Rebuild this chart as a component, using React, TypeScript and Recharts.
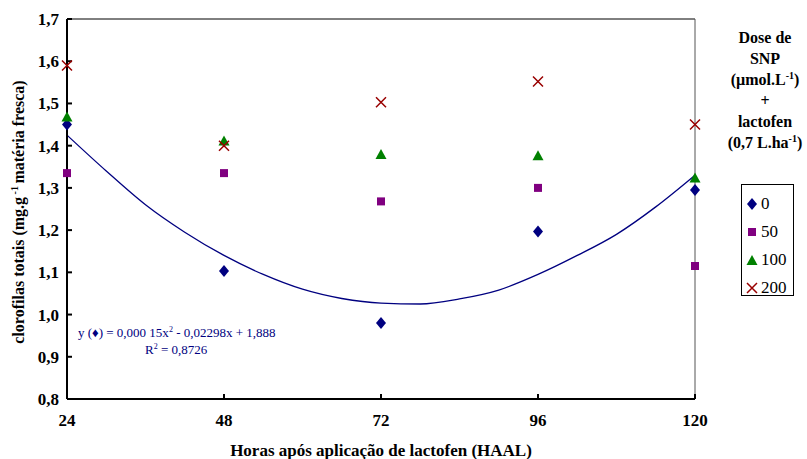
import {
  ComposedChart,
  Line,
  ReferenceLine,
  Scatter,
  XAxis,
  YAxis,
  Label,
} from 'recharts'

const hours = [24, 48, 72, 96, 120]
const dose0 = [1.45, 1.103, 0.98, 1.197, 1.295]
const dose50 = [1.335, 1.335, 1.268, 1.3, 1.115]
const dose100 = [1.467, 1.41, 1.378, 1.375, 1.322]
const dose200 = [1.59, 1.4, 1.503, 1.552, 1.45]

// trend line for dose 0
const trendHours = [24, 30, 36, 42, 48, 54, 60, 66, 72, 78, 84, 90, 96, 102, 108, 114, 120]
const trendValues = [1.425, 1.34, 1.26, 1.195, 1.14, 1.095, 1.06, 1.038, 1.027, 1.025, 1.037, 1.058, 1.095, 1.14, 1.19, 1.255, 1.33]

const yTicks = [0.8, 0.9, 1.0, 1.1, 1.2, 1.3, 1.4, 1.5, 1.6, 1.7]

const toPoints = (vals: number[]) => hours.map((h, i) => ({ x: h, y: vals[i] }))
const trend = trendHours.map((h, i) => ({ x: h, y: trendValues[i] }))

const NAVY = '#000080'
const PURPLE = '#800080'
const GREEN = '#008000'
const RED = '#990000'
const FONT = 'Times New Roman, Times, Liberation Serif, DejaVu Serif, serif'

const Diamond = ({ cx, cy }: any) => (
  <path d={`M${cx},${cy - 6}L${cx + 5},${cy}L${cx},${cy + 6}L${cx - 5},${cy}Z`} fill={NAVY} />
)
const Square = ({ cx, cy }: any) => <rect x={cx - 4} y={cy - 4} width={8} height={8} fill={PURPLE} />
const Triangle = ({ cx, cy }: any) => (
  <path d={`M${cx},${cy - 6}L${cx + 5.5},${cy + 4}L${cx - 5.5},${cy + 4}Z`} fill={GREEN} />
)
const Cross = ({ cx, cy }: any) => (
  <path
    d={`M${cx - 5},${cy - 5}L${cx + 5},${cy + 5}M${cx + 5},${cy - 5}L${cx - 5},${cy + 5}`}
    stroke={RED}
    strokeWidth={1.5}
  />
)

const legendItems = [
  { name: '0', icon: <svg width={12} height={14}><Diamond cx={6} cy={7} /></svg> },
  { name: '50', icon: <svg width={12} height={14}><Square cx={6} cy={7} /></svg> },
  { name: '100', icon: <svg width={12} height={14}><Triangle cx={6} cy={8} /></svg> },
  { name: '200', icon: <svg width={12} height={14}><Cross cx={6} cy={7} /></svg> },
]

const tickStyle = { fontSize: 17, fontWeight: 'bold', fill: '#000', fontFamily: FONT }

function YLabel() {
  return (
    <text
      transform="translate(24,212) rotate(-90)"
      textAnchor="middle"
      fontFamily={FONT}
      fontWeight="bold"
      fontSize={16}
      fill="#000"
    >
      clorofilas totais (mg.g
      <tspan dy={-6} fontSize={10}> -1 </tspan>
      <tspan dy={6}> matéria fresca)</tspan>
    </text>
  )
}

export default function App() {
  return (
    <div style={{ position: 'absolute', left: 0, top: 0, width: 807, height: 459, background: '#fff', fontFamily: FONT }}>
      <ComposedChart width={807} height={459} margin={{ top: 19, right: 112, bottom: 0, left: 0 }}>
        <XAxis
          dataKey="x"
          type="number"
          domain={[24, 120]}
          ticks={hours}
          allowDuplicatedCategory={false}
          stroke="#000"
          strokeWidth={2}
          tickSize={-5}
          tickMargin={20}
          tick={tickStyle}
          height={60}
        >
          <Label
            value="Horas após aplicação de lactofen (HAAL)"
            position="insideBottom"
            offset={3}
            style={{ fontSize: 17, fontWeight: 'bold', fill: '#000', fontFamily: FONT }}
          />
        </XAxis>
        <YAxis
          dataKey="y"
          type="number"
          domain={[0.8, 1.7]}
          ticks={yTicks}
          tickFormatter={(v: number) => v.toFixed(1).replace('.', ',')}
          stroke="#000"
          strokeWidth={2}
          tickSize={-5}
          tickMargin={13}
          tick={tickStyle}
          width={67}
        >
          <Label content={<YLabel />} />
        </YAxis>
        <ReferenceLine y={1.7} stroke="#000" strokeWidth={1} />
        <ReferenceLine x={120} stroke="#555" strokeWidth={1} />
        <Line
          data={trend}
          dataKey="y"
          type="monotone"
          stroke={NAVY}
          strokeWidth={1.3}
          dot={false}
          isAnimationActive={false}
        />
        <Scatter data={toPoints(dose0)} shape={<Diamond />} isAnimationActive={false} />
        <Scatter data={toPoints(dose50)} shape={<Square />} isAnimationActive={false} />
        <Scatter data={toPoints(dose100)} shape={<Triangle />} isAnimationActive={false} />
        <Scatter data={toPoints(dose200)} shape={<Cross />} isAnimationActive={false} />
      </ComposedChart>

      <div
        style={{
          position: 'absolute',
          left: 715,
          top: 27,
          width: 100,
          textAlign: 'center',
          fontWeight: 'bold',
          fontSize: 16,
          lineHeight: '21px',
          color: '#000',
        }}
      >
        <div>Dose de</div>
        <div>SNP</div>
        <div>(µmol.L<sup style={{ fontSize: 10, lineHeight: 0 }}>-1</sup>)</div>
        <div>+</div>
        <div>lactofen</div>
        <div>(0,7 L.ha<sup style={{ fontSize: 10, lineHeight: 0 }}>-1</sup>)</div>
      </div>

      <div
        style={{
          position: 'absolute',
          left: 741,
          top: 184,
          width: 53,
          height: 112,
          border: '1px solid #000',
          boxSizing: 'border-box',
          paddingTop: 5,
        }}
      >
        {legendItems.map((it) => (
          <div key={it.name} style={{ display: 'flex', alignItems: 'center', height: 28, paddingLeft: 4, fontSize: 17 }}>
            {it.icon}
            <span style={{ marginLeft: 3 }}>{it.name}</span>
          </div>
        ))}
      </div>

      <div
        style={{
          position: 'absolute',
          left: 78,
          top: 324,
          whiteSpace: 'nowrap',
          color: NAVY,
          fontSize: 13,
          lineHeight: '17px',
        }}
      >
        y (♦) = 0,000 15x<sup style={{ fontSize: 8, lineHeight: 0 }}>2</sup> - 0,02298x + 1,888
      </div>
      <div
        style={{
          position: 'absolute',
          left: 145,
          top: 341,
          whiteSpace: 'nowrap',
          color: NAVY,
          fontSize: 13,
          lineHeight: '17px',
        }}
      >
        R<sup style={{ fontSize: 8, lineHeight: 0 }}>2</sup> = 0,8726
      </div>
    </div>
  )
}
